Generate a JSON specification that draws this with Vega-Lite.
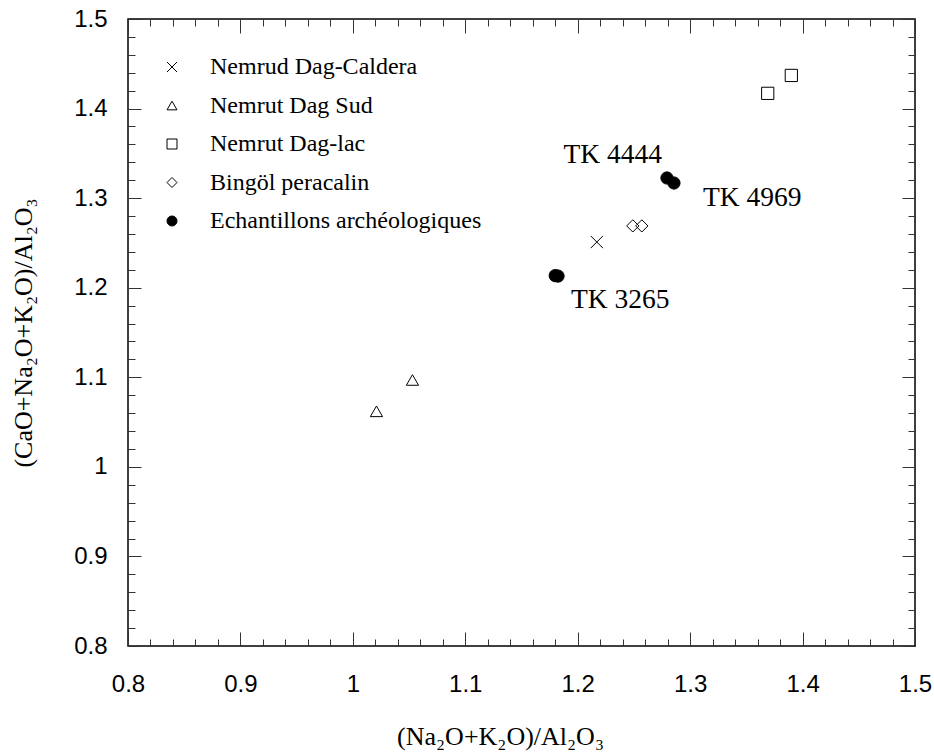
{
  "$schema": "https://vega.github.io/schema/vega-lite/v6.json",
  "autosize": {"type": "none"},
  "padding": {"left": 128, "top": 19, "right": 19, "bottom": 107},
  "width": 787,
  "height": 627,
  "background": "white",
  "config": {
    "view": {"stroke": "black", "strokeWidth": 1.5},
    "axis": {
      "grid": false,
      "domain": false,
      "tickColor": "#333333",
      "tickWidth": 1,
      "labelFont": "Liberation Sans",
      "labelFontSize": 24,
      "labelColor": "black",
      "labelOverlap": false,
      "labelFlush": false,
      "labelBound": false,
      "titleFont": "Liberation Serif, DejaVu Serif",
      "titleFontSize": 26,
      "titleFontWeight": "normal",
      "titleColor": "black"
    },
    "legend": {
      "labelFont": "Liberation Serif",
      "labelFontSize": 24,
      "labelColor": "black",
      "labelLimit": 500
    }
  },
  "data": {
    "values": [
      {"group": "Nemrud Dag-Caldera", "x": 1.217, "y": 1.251},
      {"group": "Nemrut Dag Sud", "x": 1.021, "y": 1.062},
      {"group": "Nemrut Dag Sud", "x": 1.053, "y": 1.097},
      {"group": "Nemrut Dag-lac", "x": 1.369, "y": 1.417},
      {"group": "Nemrut Dag-lac", "x": 1.390, "y": 1.437},
      {"group": "Bingöl peracalin", "x": 1.249, "y": 1.269},
      {"group": "Bingöl peracalin", "x": 1.257, "y": 1.269},
      {"group": "Echantillons archéologiques", "x": 1.2794, "y": 1.3225, "label": "TK 4444"},
      {"group": "Echantillons archéologiques", "x": 1.2856, "y": 1.3169, "label": "TK 4969"},
      {"group": "Echantillons archéologiques", "x": 1.180, "y": 1.2135},
      {"group": "Echantillons archéologiques", "x": 1.1825, "y": 1.213, "label": "TK 3265"}
    ]
  },
  "resolve": {"axis": {"x": "independent", "y": "independent"}},
  "layer": [
    {
      "mark": {"type": "point", "opacity": 1, "strokeWidth": 1, "size": 150},
      "encoding": {
        "x": {
          "field": "x", "type": "quantitative",
          "scale": {"domain": [0.8, 1.5], "nice": false, "zero": false},
          "axis": {
            "orient": "bottom",
            "offset": -14,
            "tickSize": 14,
            "title": "(Na₂O+K₂O)/Al₂O₃",
            "titlePadding": 27,
            "titleX": 372,
            "titleAlign": "center",
            "values": [0.8, 0.9, 1, 1.1, 1.2, 1.3, 1.4, 1.5],
            "labelPadding": 26,
            "labelExpr": "format(datum.value, '~g')"
          }
        },
        "y": {
          "field": "y", "type": "quantitative",
          "scale": {"domain": [0.8, 1.5], "nice": false, "zero": false},
          "axis": {
            "orient": "left",
            "offset": -13,
            "tickSize": 13,
            "title": "(CaO+Na₂O+K₂O)/Al₂O₃",
            "titlePadding": 37,
            "values": [0.8, 0.9, 1, 1.1, 1.2, 1.3, 1.4, 1.5],
            "labelPadding": 21,
            "labelExpr": "format(datum.value, '~g')"
          }
        },
        "shape": {
          "field": "group", "type": "nominal",
          "scale": {
            "domain": ["Nemrud Dag-Caldera", "Nemrut Dag Sud", "Nemrut Dag-lac", "Bingöl peracalin", "Echantillons archéologiques"],
            "range": ["M-1,-1L1,1M1,-1L-1,1", "triangle-up", "square", "diamond", "circle"]
          },
          "legend": {
            "title": null, "orient": "none", "legendX": 32, "legendY": 36,
            "symbolSize": 100, "symbolStrokeWidth": 1,
            "labelOffset": 26, "rowPadding": 14.5, "padding": 0
          }
        },
        "fill": {
          "field": "group", "type": "nominal",
          "scale": {
            "domain": ["Nemrud Dag-Caldera", "Nemrut Dag Sud", "Nemrut Dag-lac", "Bingöl peracalin", "Echantillons archéologiques"],
            "range": ["transparent", "transparent", "transparent", "transparent", "black"]
          },
          "legend": {
            "title": null, "orient": "none", "legendX": 32, "legendY": 36,
            "symbolSize": 100, "symbolStrokeWidth": 1,
            "labelOffset": 26, "rowPadding": 14.5, "padding": 0
          }
        },
        "stroke": {
          "field": "group", "type": "nominal",
          "scale": {
            "domain": ["Nemrud Dag-Caldera", "Nemrut Dag Sud", "Nemrut Dag-lac", "Bingöl peracalin", "Echantillons archéologiques"],
            "range": ["black", "black", "black", "black", "black"]
          },
          "legend": {
            "title": null, "orient": "none", "legendX": 32, "legendY": 36,
            "symbolSize": 100, "symbolStrokeWidth": 1,
            "labelOffset": 26, "rowPadding": 14.5, "padding": 0
          }
        }
      }
    },
    {
      "transform": [{"filter": "datum.label == 'TK 4444'"}],
      "mark": {"type": "text", "align": "right", "baseline": "middle", "dx": -5, "dy": -23, "font": "Liberation Serif", "fontSize": 27.5, "color": "black"},
      "encoding": {
        "x": {"field": "x", "type": "quantitative", "scale": {"domain": [0.8, 1.5], "nice": false, "zero": false}, "axis": {
            "orient": "top", "title": null, "labels": false, "offset": -14, "tickSize": 14,
            "values": [0.8, 0.9, 1, 1.1, 1.2, 1.3, 1.4, 1.5]
        }},
        "y": {"field": "y", "type": "quantitative", "scale": {"domain": [0.8, 1.5], "nice": false, "zero": false}, "axis": {
            "orient": "right", "title": null, "labels": false, "offset": -13, "tickSize": 13,
            "values": [0.8, 0.9, 1, 1.1, 1.2, 1.3, 1.4, 1.5]
        }},
        "text": {"field": "label"}
      }
    },
    {
      "transform": [{"filter": "datum.label == 'TK 4969'"}],
      "mark": {"type": "text", "align": "left", "baseline": "middle", "dx": 29, "dy": 15, "font": "Liberation Serif", "fontSize": 27.5, "color": "black"},
      "encoding": {
        "x": {"field": "x", "type": "quantitative", "axis": {
            "orient": "bottom", "title": null, "labels": false, "offset": -7, "tickSize": 7,
            "values": [0.82,0.84,0.86,0.88,0.92,0.94,0.96,0.98,1.02,1.04,1.06,1.08,1.12,1.14,1.16,1.18,1.22,1.24,1.26,1.28,1.32,1.34,1.36,1.38,1.42,1.44,1.46,1.48]
        }},
        "y": {"field": "y", "type": "quantitative", "axis": {
            "orient": "left", "title": null, "labels": false, "offset": -7, "tickSize": 7,
            "values": [0.82,0.84,0.86,0.88,0.92,0.94,0.96,0.98,1.02,1.04,1.06,1.08,1.12,1.14,1.16,1.18,1.22,1.24,1.26,1.28,1.32,1.34,1.36,1.38,1.42,1.44,1.46,1.48]
        }},
        "text": {"field": "label"}
      }
    },
    {
      "transform": [{"filter": "datum.label == 'TK 3265'"}],
      "mark": {"type": "text", "align": "left", "baseline": "middle", "dx": 13, "dy": 24, "font": "Liberation Serif", "fontSize": 27.5, "color": "black"},
      "encoding": {
        "x": {"field": "x", "type": "quantitative", "axis": {
            "orient": "top", "title": null, "labels": false, "offset": -7, "tickSize": 7,
            "values": [0.82,0.84,0.86,0.88,0.92,0.94,0.96,0.98,1.02,1.04,1.06,1.08,1.12,1.14,1.16,1.18,1.22,1.24,1.26,1.28,1.32,1.34,1.36,1.38,1.42,1.44,1.46,1.48]
        }},
        "y": {"field": "y", "type": "quantitative", "axis": {
            "orient": "right", "title": null, "labels": false, "offset": -7, "tickSize": 7,
            "values": [0.82,0.84,0.86,0.88,0.92,0.94,0.96,0.98,1.02,1.04,1.06,1.08,1.12,1.14,1.16,1.18,1.22,1.24,1.26,1.28,1.32,1.34,1.36,1.38,1.42,1.44,1.46,1.48]
        }},
        "text": {"field": "label"}
      }
    }
  ]
}
